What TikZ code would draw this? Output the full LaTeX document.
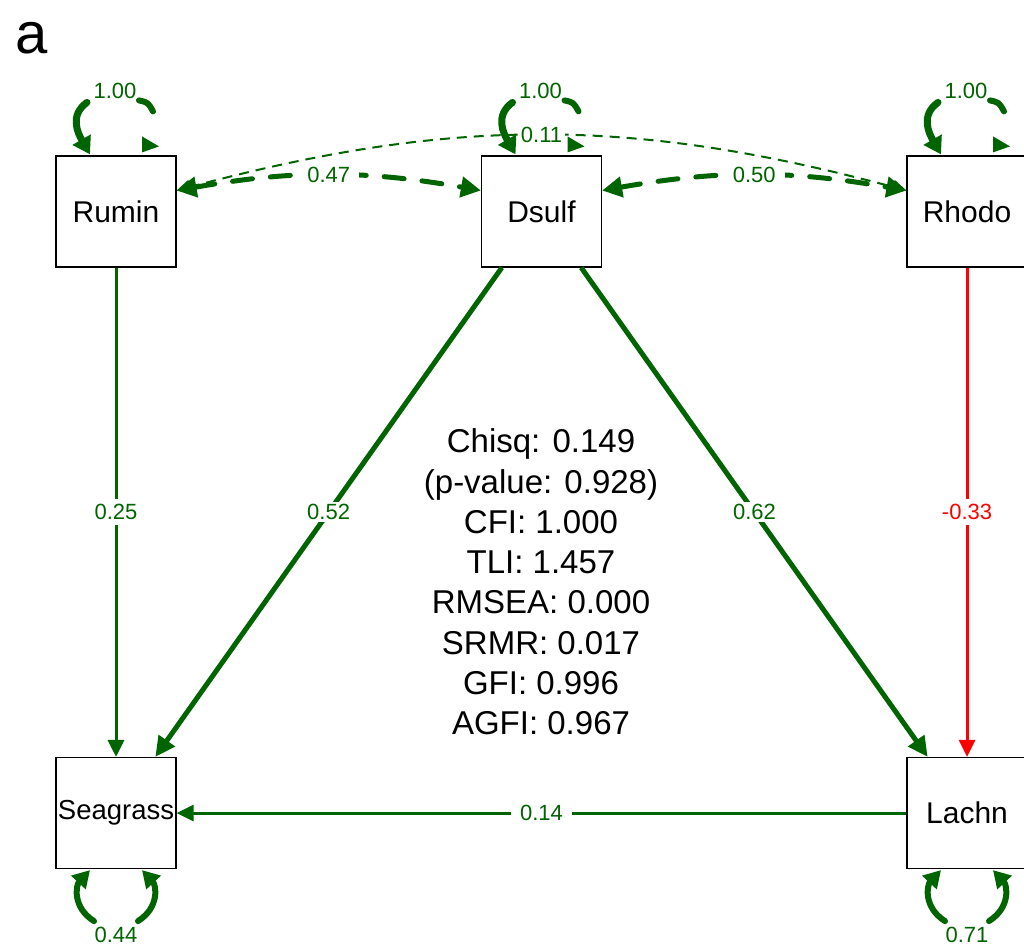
\documentclass[tikz,border=0pt]{standalone}
\usepackage{fontspec}
\setmainfont{Liberation Sans}
\usetikzlibrary{arrows.meta,calc}
\definecolor{dg}{RGB}{0,100,0}
\definecolor{rd}{RGB}{255,0,0}
\newcommand\myTopLoop[2]{%
 \draw[loopline,-{Triangle[length=17pt,width=20pt]}] ($(#1.north)+(-29,-53)$) .. controls ($(#1.north)+(-47,-40)$) and ($(#1.north)+(-38,-22)$) .. ($(#1.north)+(-26,-1)$);
 \draw[loopline,line width=6pt] ($(#1.north)+(23,-55)$) .. controls ($(#1.north)+(32,-53)$) .. ($(#1.north)+(37,-44)$);
 \fill[dg] ($(#1.north)+(26,-19)$) -- ($(#1.north)+(26,-3)$) -- ($(#1.north)+(43,-9)$) -- cycle;
 \node[lab,fill=none] at ($(#1.north)+(-1,-64)$) {#2};
}
\newcommand\myBotLoop[2]{%
 \draw[loopline,line width=6pt,-{Triangle[length=17pt,width=19pt]}] ($(#1.south)+(-22,52)$) .. controls ($(#1.south)+(-44,38)$) and ($(#1.south)+(-40,16)$) .. ($(#1.south)+(-26,1)$);
 \draw[loopline,line width=6pt,-{Triangle[length=17pt,width=19pt]}] ($(#1.south)+(22,52)$) .. controls ($(#1.south)+(44,38)$) and ($(#1.south)+(40,16)$) .. ($(#1.south)+(26,1)$);
 \node[lab,fill=none] at ($(#1.south)+(0,66)$) {#2};
}
\begin{document}
\begin{tikzpicture}[x=1pt,y=-1pt,
  var/.style={draw=black,line width=1.2pt,minimum width=120pt,minimum height=111pt,inner sep=0pt,font=\fontsize{30}{36}\selectfont},
  lab/.style={font=\fontsize{22}{26}\selectfont,text=dg,fill=white,inner xsep=9pt,inner ysep=5pt},
  rlab/.style={lab,text=rd},
  thinpath/.style={draw=dg,line width=3pt,-{Triangle[length=17pt,width=16pt]}},
  thickpath/.style={draw=dg,line width=5pt,-{Triangle[length=20pt,width=19pt]}},
  thickdash/.style={draw=dg,line width=5pt,dash pattern=on 20pt off 18pt,line cap=round,{Triangle[length=20pt,width=20pt]}-{Triangle[length=20pt,width=20pt]}},
  thindash/.style={draw=dg,line width=2pt,dash pattern=on 10pt off 7pt,{Triangle[length=14pt,width=14pt]}-{Triangle[length=14pt,width=14pt]}},
  loopline/.style={draw=dg,line width=7pt,line cap=round}
]
\useasboundingbox (0,0) rectangle (1024,946);
\fill[white] (0,0) rectangle (1024,946);
\node (panel) at (32,38) {\fontsize{58}{60}\selectfont a};

\node[var] (Rumin) at (116,211.5) {Rumin};
\node[var] (Dsulf) at (541.5,211.5) {Dsulf};
\node[var] (Rhodo) at (967,211.5) {Rhodo};
\node[var,font=\fontsize{27.5}{33}\selectfont] (Seagrass) at (116,813) {Seagrass};
\node[var] (Lachn) at (967,813) {Lachn};

\node (fit) at (541,582) [align=center,font=\fontsize{33}{40.3}\selectfont] {Chisq: 0.149\\(p-value: 0.928)\\CFI: 1.000\\TLI: 1.457\\RMSEA: 0.000\\SRMR: 0.017\\GFI: 0.996\\AGFI: 0.967};

\draw[thindash] ([yshift=21pt]Rumin.east) to[bend left=15] node[lab,inner xsep=3pt,inner ysep=1pt]{0.11} ([yshift=21pt]Rhodo.west);
\draw[thickdash] ([yshift=21pt]Rumin.east) to[bend left=10] node[lab]{0.47} ([yshift=21pt]Dsulf.west);
\draw[thickdash] ([yshift=21pt]Dsulf.east) to[bend left=10] node[lab]{0.50} ([yshift=21pt]Rhodo.west);

\draw[thinpath] (Rumin) -- node[lab]{0.25} (Seagrass);
\draw[thickpath] (Dsulf) -- node[lab,inner sep=2pt]{0.52} (Seagrass);
\draw[thickpath] (Dsulf) -- node[lab,inner sep=2pt]{0.62} (Lachn);
\draw[thinpath,draw=rd,-{Triangle[length=17pt,width=16pt,fill=rd]}] (Rhodo) -- node[rlab]{-0.33} (Lachn);
\draw[thinpath] (Lachn) -- node[lab]{0.14} (Seagrass);

\myTopLoop{Rumin}{1.00}
\myTopLoop{Dsulf}{1.00}
\myTopLoop{Rhodo}{1.00}
\myBotLoop{Seagrass}{0.44}
\myBotLoop{Lachn}{0.71}
\end{tikzpicture}
\end{document}
